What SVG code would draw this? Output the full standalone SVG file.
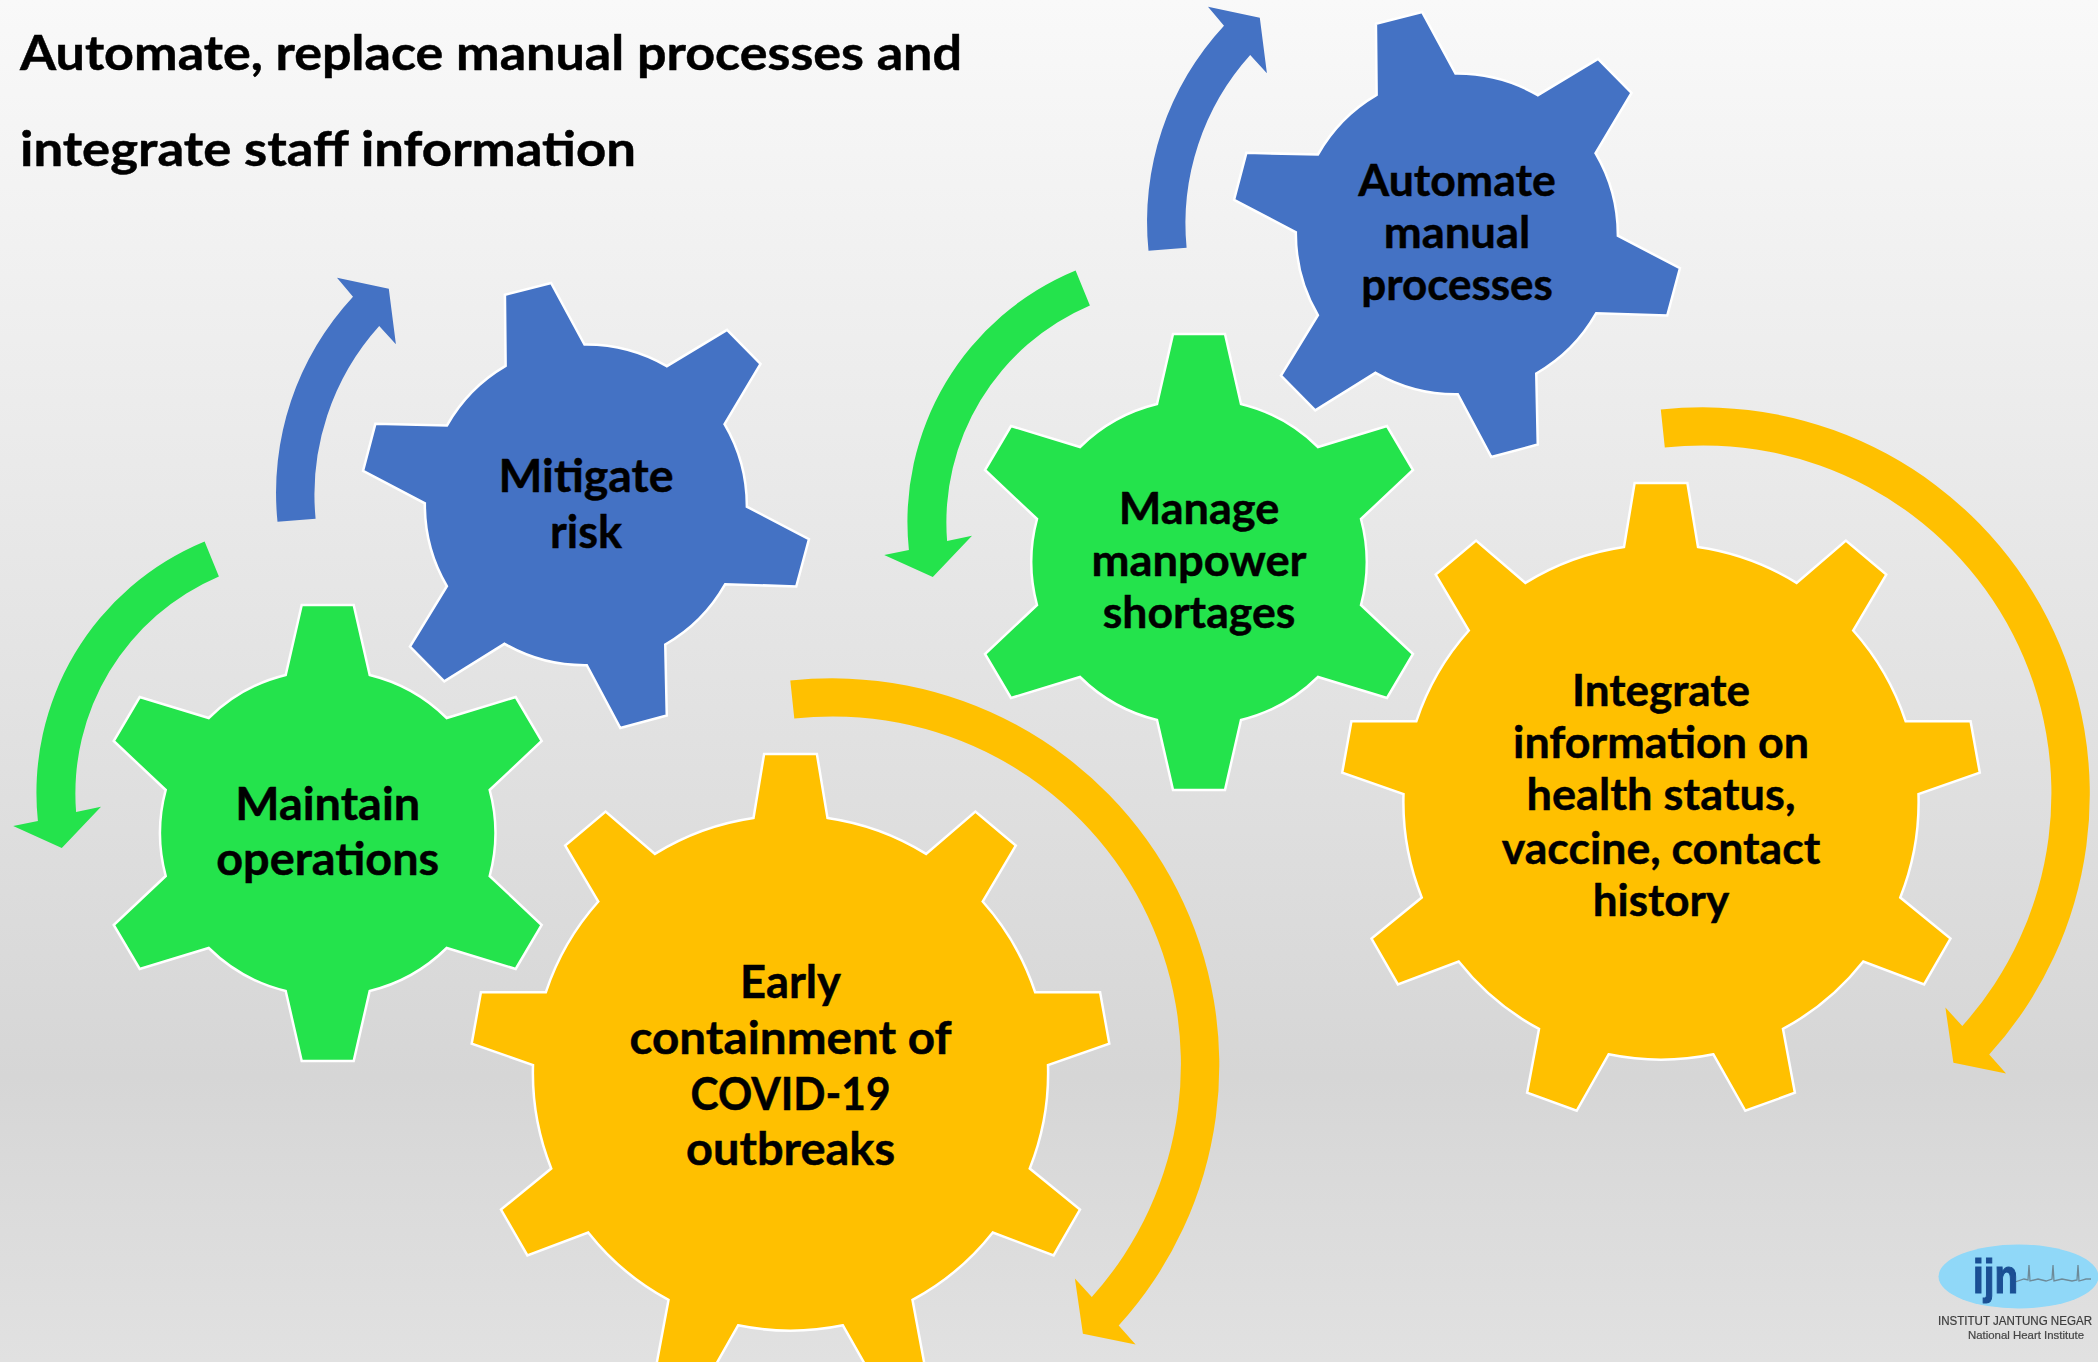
<svg xmlns="http://www.w3.org/2000/svg" xmlns:xlink="http://www.w3.org/1999/xlink" width="2098" height="1362" viewBox="0 0 2098 1362">
<style>
text{font-family:"Lato","Liberation Sans",sans-serif;font-weight:700;fill:#000;stroke:#000;stroke-width:.45;text-anchor:middle}
.l{font-size:44px}
.m{font-size:45px}
.t{font-size:48px;text-anchor:start}
.gear{stroke:#fff;stroke-width:2.5;stroke-linejoin:miter}
.green{fill:#24e34c}.blue{fill:#4472c4}.orange{fill:#ffc000}
.logo text{font-family:"Liberation Sans",sans-serif;stroke:none}
.logo .s{font-weight:400;stroke:#3c3c3c;stroke-width:.2}
</style>
<defs>
<linearGradient id="bg" x1="0" y1="0" x2="0" y2="1"><stop offset="0" stop-color="#f9f9f9"/><stop offset=".79" stop-color="#d6d6d6"/><stop offset="1" stop-color="#e1e1e1"/></linearGradient>
<filter id="soft" x="-5%" y="-5%" width="110%" height="110%"><feGaussianBlur stdDeviation=".6"/></filter>
<path id="g6" d="M-26-228H26L42-158A165 165 0 0 1 119-115L188-136L214-92L162-43A165 165 0 0 1 162 43L214 92L188 136L119 115A165 165 0 0 1 42 158L26 228H-26L-42 158A165 165 0 0 1-119 115L-188 136L-214 92L-162 43A165 165 0 0 1-162-43L-214-92L-188-136L-119-115A165 165 0 0 1-42-158Z"/>
<path id="b6" d="M-79.9-138.8L-80.6-209.5L-34.7-221.2L-1.5-160A160 160 0 0 1 80.3-138.5L140.2-174.5L173.5-140.8L137.7-80.8A160 160 0 0 1 159.9 1.2L221.6 33.5L209 80.5L138.4 78.2A160 160 0 0 1 78.8 138.2L80.3 208.8L34.1 221.2L.8 158.8A160 160 0 0 1-81 137.5L-140.9 174.8L-175 140.2L-138.3 80.2A160 160 0 0 1-160.2-2.2L-221.6-34.5L-209.4-81.2L-138.3-79.5A160 160 0 0 1-79.9-138.8Z"/>
<path id="o9" d="M-37-255L-26.4-319H26.4L37-255A257.7 257.7 0 0 1 135.6-219.1L184.9-261.4L225.3-227.4L192.2-171.5A257.7 257.7 0 0 1 244.7-80.7H309.6L318.8-29.4L257.5-7.9A257.7 257.7 0 0 1 239.3 95.5L289.5 136.6L263.1 182.4L202.3 159.5A257.7 257.7 0 0 1 122 226.9L133.9 290.8L84.3 308.8L52.4 252.3A257.7 257.7 0 0 1-52.4 252.3L-84.3 308.8L-133.9 290.8L-122 226.9A257.7 257.7 0 0 1-202.3 159.5L-263.1 182.4L-289.5 136.6L-239.3 95.5A257.7 257.7 0 0 1-257.5-7.9L-318.8-29.4L-309.6-80.7H-244.7A257.7 257.7 0 0 1-192.2-171.5L-225.3-227.4L-184.9-261.4L-135.6-219.1A257.7 257.7 0 0 1-37-255Z"/>
<path id="ag" d="M204.6 541.4A272 272 0 0 0 37.9 821.1L13.2 826.1L61.8 847.9L101 806.8L76.1 812.1A236 236 0 0 1 218.9 576.4Z"/>
<path id="ab" d="M1148.5 250.7A288 288 0 0 1 1224 25.7L1208 6.7L1259.8 17.7L1266.9 73.3L1250.2 55A252 252 0 0 0 1186.6 247.7Z"/>
<path id="ao" d="M790.3 680.6A387 387 0 0 1 1118.7 1325.6L1135.6 1344.4L1082.9 1333.7L1074.9 1278.6L1091.8 1297A348 348 0 0 0 794.3 718.6Z"/>
</defs>
<rect width="2098" height="1362" fill="url(#bg)"/>
<g id="title">
<text class="t" x="20" y="70" textLength="942" lengthAdjust="spacingAndGlyphs">Automate, replace manual processes and</text>
<text class="t" x="20" y="165.7" textLength="616" lengthAdjust="spacingAndGlyphs">integrate staff information</text>
</g>
<g id="connectors">
<use xlink:href="#ag" href="#ag" class="green"/>
<use xlink:href="#ag" href="#ag" class="green" transform="translate(871 -271)"/>
<use xlink:href="#ab" href="#ab" class="blue"/>
<use xlink:href="#ab" href="#ab" class="blue" transform="translate(-871 271)"/>
<use xlink:href="#ao" href="#ao" class="orange"/>
<use xlink:href="#ao" href="#ao" class="orange" transform="translate(870.5 -271)"/>
</g>
<g id="maintain" transform="translate(327.7 833)">
<use href="#g6" class="gear green"/>
<text class="m" x="0" y="-13.5" textLength="185" lengthAdjust="spacingAndGlyphs">Maintain</text>
<text class="m" x="0" y="41.5" textLength="223" lengthAdjust="spacingAndGlyphs">operations</text>
</g>
<g id="mitigate" transform="translate(586 505.5)">
<use href="#b6" class="gear blue" transform="scale(1.006)"/>
<text class="m" x="0" y="-13.5" textLength="175" lengthAdjust="spacingAndGlyphs">Mitigate</text>
<text class="m" x="0" y="42" textLength="72" lengthAdjust="spacingAndGlyphs">risk</text>
</g>
<g id="automate" transform="translate(1457 234.5)">
<use href="#b6" class="gear blue" transform="scale(1.006)"/>
<text class="l" x="0" y="-39" textLength="197.5" lengthAdjust="spacingAndGlyphs">Automate</text>
<text class="l" x="0" y="13.3" textLength="146.5" lengthAdjust="spacingAndGlyphs">manual</text>
<text class="l" x="0" y="65" textLength="191.6" lengthAdjust="spacingAndGlyphs">processes</text>
</g>
<g id="manage" transform="translate(1199 562)">
<use href="#g6" class="gear green"/>
<text class="l" x="0" y="-38.5" textLength="160.6" lengthAdjust="spacingAndGlyphs">Manage</text>
<text class="l" x="0" y="13.5" textLength="215" lengthAdjust="spacingAndGlyphs">manpower</text>
<text class="l" x="0" y="65.5" textLength="192.7" lengthAdjust="spacingAndGlyphs">shortages</text>
</g>
<g id="early" transform="translate(790.5 1073)">
<use href="#o9" class="gear orange"/>
<text class="m" x="0" y="-75.5" textLength="101" lengthAdjust="spacingAndGlyphs">Early</text>
<text class="m" x="0" y="-19.5" textLength="322" lengthAdjust="spacingAndGlyphs">containment of</text>
<text class="m" x="0" y="36.5" textLength="200" lengthAdjust="spacingAndGlyphs">COVID-19</text>
<text class="m" x="0" y="92" textLength="209" lengthAdjust="spacingAndGlyphs">outbreaks</text>
</g>
<g id="integrate" transform="translate(1661 802)">
<use href="#o9" class="gear orange"/>
<text class="l" x="0" y="-95.7" textLength="178" lengthAdjust="spacingAndGlyphs">Integrate</text>
<text class="l" x="0" y="-44" textLength="296" lengthAdjust="spacingAndGlyphs">information on</text>
<text class="l" x="0" y="8.3" textLength="269" lengthAdjust="spacingAndGlyphs">health status,</text>
<text class="l" x="0" y="61.6" textLength="318.5" lengthAdjust="spacingAndGlyphs">vaccine, contact</text>
<text class="l" x="0" y="113.8" textLength="136.5" lengthAdjust="spacingAndGlyphs">history</text>
</g>
<g id="logo" class="logo" filter="url(#soft)">
<ellipse cx="2018.5" cy="1276.5" rx="80" ry="32" fill="#90d8f8"/>
<polyline fill="none" stroke="#6d8a98" stroke-width="1.3" points="2015,1282 2024,1279 2028,1280 2029,1265 2030,1281 2038,1279 2046,1281 2052,1279 2053,1265 2054,1281 2062,1279 2072,1281 2077,1280 2078,1265 2079,1281 2086,1279 2091,1279"/>
<text x="1995.5" y="1293" font-size="48" textLength="45" lengthAdjust="spacingAndGlyphs" style="fill:#1a4f94;stroke:#1a4f94;stroke-width:1.2">ijn</text>
<text class="s" x="2015" y="1325" font-size="12" textLength="154" lengthAdjust="spacingAndGlyphs" style="fill:#3c3c3c">INSTITUT JANTUNG NEGAR</text>
<text class="s" x="2026" y="1339" font-size="10.5" textLength="116" lengthAdjust="spacingAndGlyphs" style="fill:#4a4a4a">National Heart Institute</text>
</g>
</svg>
